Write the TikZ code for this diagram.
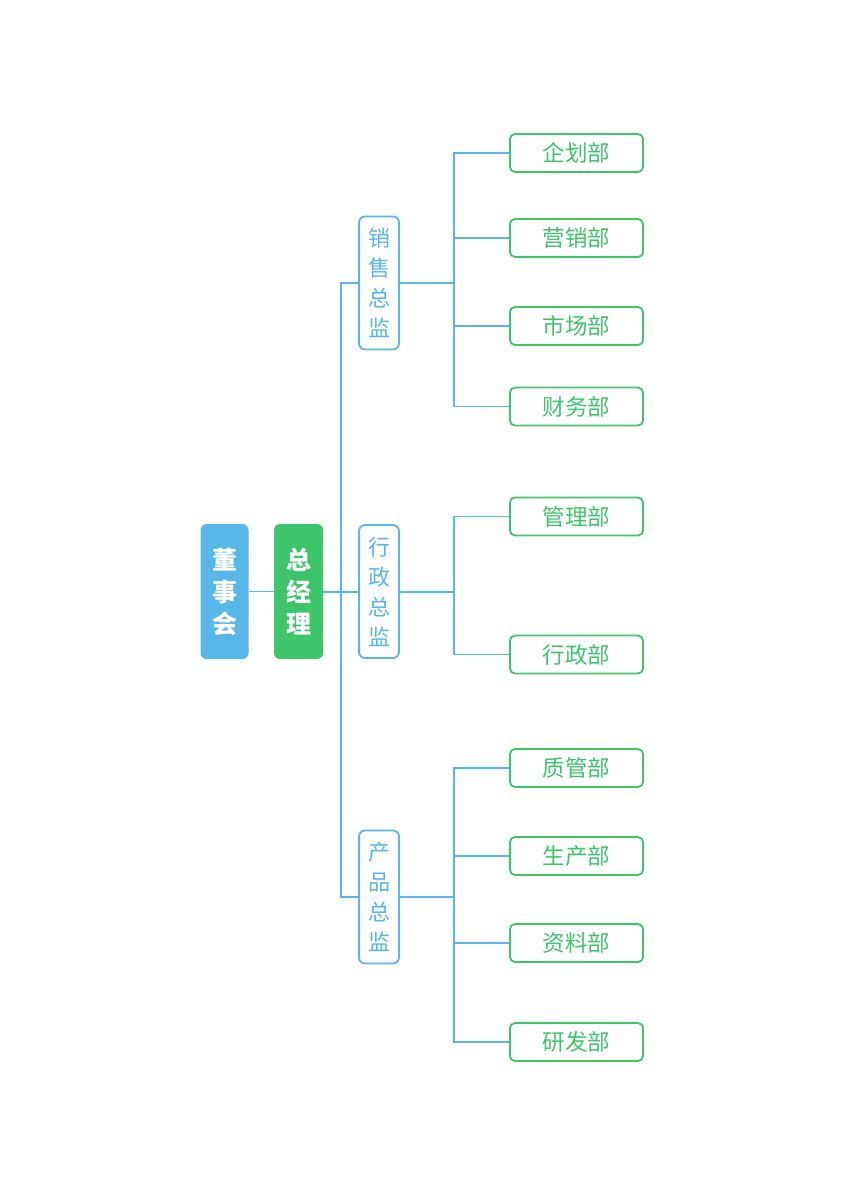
\documentclass[tikz,border=0pt]{standalone}
\usepackage{fontspec}
\setmainfont{Noto Sans CJK SC}
\definecolor{lan}{HTML}{56B7E8}
\definecolor{lv}{HTML}{3DC56B}
\tikzset{
  top/.style={rounded corners=6pt, text=white, align=center, inner sep=0pt,
    minimum width=48pt, minimum height=135pt, font=\bfseries\fontsize{25}{32}\selectfont},
  zongjian/.style={draw=lan, line width=1.8pt, rounded corners=6pt, text=lan, align=center,
    inner sep=0pt, minimum width=40pt, minimum height=133pt, font=\fontsize{22}{30}\selectfont},
  bu/.style={draw=lv, line width=1.8pt, rounded corners=5pt, text=lv, inner sep=0pt,
    minimum width=133pt, minimum height=38pt, font=\fontsize{22.5}{26}\selectfont},
  xian/.style={draw=lan, line width=1.7pt},
}
\begin{document}
\begin{tikzpicture}[x=1pt,y=-1pt]
\useasboundingbox (0,0) rectangle (848,1200);
    % top
    \node[top, fill=lan] (dsh) at (224.5,591.5) {董\\事\\会};
    \node[top, fill=lv, minimum width=49pt] (zjl) at (298.5,591.5) {总\\经\\理};
    % directors
    \node[zongjian] (xs) at (379,283) {销\\售\\总\\监};
    \node[zongjian] (xz) at (379,591.5) {行\\政\\总\\监};
    \node[zongjian] (cp) at (379,897) {产\\品\\总\\监};
    % departments
    \node[bu] (qh) at (576.5,153) {企划部};
    \node[bu] (yx) at (576.5,238) {营销部};
    \node[bu] (sc) at (576.5,326) {市场部};
    \node[bu] (cw) at (576.5,406.5) {财务部};
    \node[bu] (gl) at (576.5,516.5) {管理部};
    \node[bu] (xzb) at (576.5,654.5) {行政部};
    \node[bu] (zg) at (576.5,768) {质管部};
    \node[bu] (scb) at (576.5,856) {生产部};
    \node[bu] (zl) at (576.5,943) {资料部};
    \node[bu] (yf) at (576.5,1042) {研发部};
    \coordinate (J) at (341,591.5);
    \coordinate (B1) at (454,283);
    \coordinate (B2) at (454,591.5);
    \coordinate (B3) at (454,897);
    % lines
    \draw[xian] (dsh) -- (zjl);
    \draw[xian, line width=2pt] (zjl) -- (xz);
    \draw[xian] (J) |- (xs.west);
    \draw[xian] (J) |- (cp.west);
    \draw[xian, line width=2pt] (xs) -- (B1);
    \draw[xian, line width=2pt] (xz) -- (B2);
    \draw[xian, line width=2pt] (cp) -- (B3);
    \draw[xian] (B1) |- (qh.west);
    \draw[xian] (B1) |- (yx.west);
    \draw[xian] (B1) |- (sc.west);
    \draw[xian] (B1) |- (cw.west);
    \draw[xian] (B2) |- (gl.west);
    \draw[xian] (B2) |- (xzb.west);
    \draw[xian] (B3) |- (zg.west);
    \draw[xian] (B3) |- (scb.west);
    \draw[xian] (B3) |- (zl.west);
    \draw[xian] (B3) |- (yf.west);
\end{tikzpicture}
\end{document}
